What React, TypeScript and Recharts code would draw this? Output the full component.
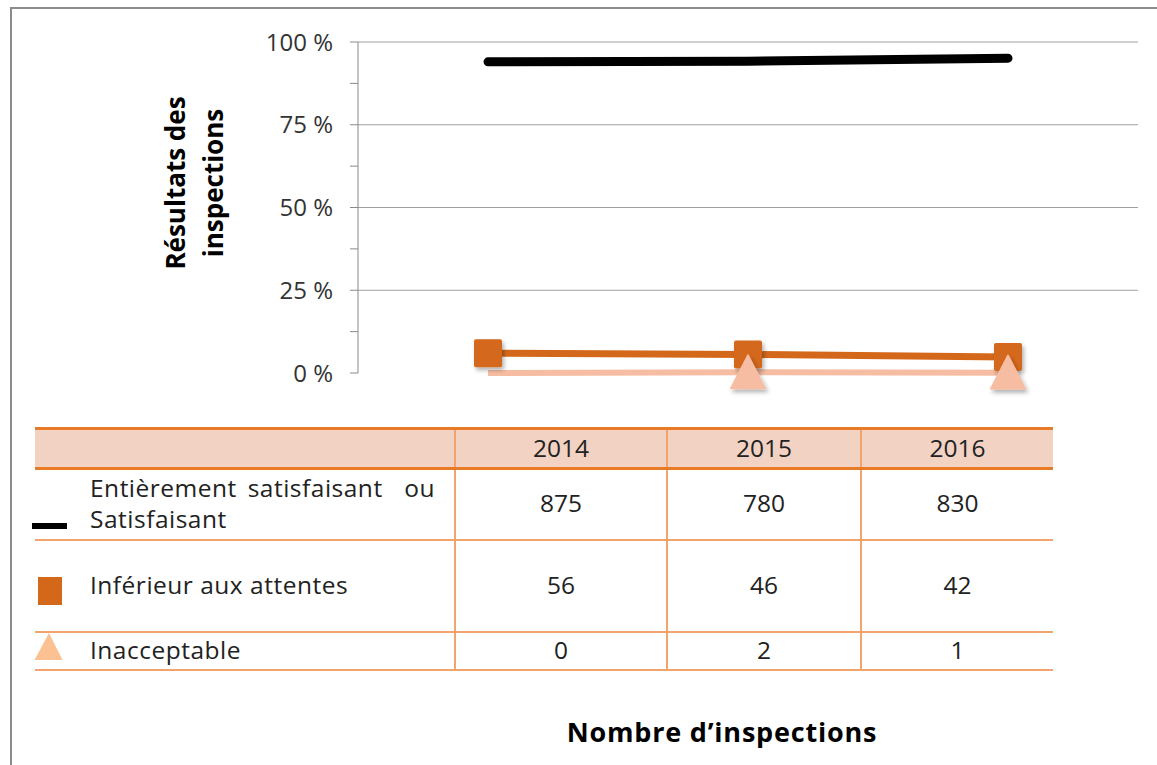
import React from 'react';
import { LineChart, Line, XAxis, YAxis, CartesianGrid } from 'recharts';

// Inspection results by year: share of inspections (line) and counts (table)
const years = ['2014', '2015', '2016'];
const satisfaisantPct = [94.0, 94.2, 95.1];
const inferieurPct = [6.0, 5.6, 4.8];
const inacceptablePct = [0, 0.2, 0.1];
const satisfaisantCount = [875, 780, 830];
const inferieurCount = [56, 46, 42];
const inacceptableCount = [0, 2, 1];
const yTicks = [0, 12.5, 25, 37.5, 50, 62.5, 75, 87.5, 100];
const gridValues = [25, 50, 75, 100];

const BLACK = '#000000';
const ORANGE = '#D4681A';
const PEACH = '#F6BDA3';
const TABLE_ORANGE = '#E97A26';
const TABLE_LINE = '#F2A46C';
const FONT = '"Open Sans", sans-serif';

const data = years.map((year, i) => ({
  year,
  satisfaisant: satisfaisantPct[i],
  inferieur: inferieurPct[i],
  inacceptable: inacceptablePct[i],
}));

const SquareDot = (props: any) => {
  const { cx, cy, index } = props;
  return (
    <rect key={`sq-${index}`} x={cx - 14} y={cy - 14} width={28} height={28} rx={2}
      fill={ORANGE} filter="url(#markerShadow)" />
  );
};

const TriangleDot = (props: any) => {
  const { cx, cy, index } = props;
  if (inacceptableCount[index] === 0) return <g key={`tr-${index}`} />;
  return (
    <path key={`tr-${index}`} d={`M${cx},${cy - 17} L${cx + 17},${cy + 16} L${cx - 17},${cy + 16} Z`}
      fill={PEACH} stroke={PEACH} strokeWidth={2} strokeLinejoin="round" filter="url(#markerShadow)" />
  );
};

const YTitle = () => (
  <text transform="translate(185,183) rotate(-90)" textAnchor="middle"
    style={{ fontFamily: FONT, fontWeight: 700, fontSize: 26, fill: '#000' }}>
    <tspan x={0} dy={0}>Résultats des</tspan>
    <tspan x={0} dy={38}>inspections</tspan>
  </text>
);

const rows = [
  { label: ['Entièrement satisfaisant  ou', 'Satisfaisant'], values: satisfaisantCount, height: 71 },
  { label: ['Inférieur aux attentes'], values: inferieurCount, height: 92 },
  { label: ['Inacceptable'], values: inacceptableCount, height: 38 },
];
const colWidths = [420, 212, 194, 192];

function DataTable() {
  const cell = (i: number, last: boolean): React.CSSProperties => ({
    width: colWidths[i],
    borderRight: i < colWidths.length - 1 ? `2px solid ${TABLE_LINE}` : 'none',
    borderBottom: last ? `3px solid ${TABLE_ORANGE}` : `2px solid ${TABLE_LINE}`,
    textAlign: i === 0 ? 'left' : 'center',
    padding: 0,
    paddingLeft: i === 0 ? 55 : 0,
    boxSizing: 'border-box',
    verticalAlign: 'middle',
  });
  return (
    <table style={{ position: 'absolute', left: 35, top: 427, width: 1018, borderCollapse: 'collapse',
      tableLayout: 'fixed', fontFamily: FONT, fontSize: 24.5, color: '#222', lineHeight: '31px' }}>
      <tbody>
        <tr style={{ height: 40, background: '#F2D3C3', borderTop: `3px solid ${TABLE_ORANGE}` }}>
          <td style={cell(0, true)} />
          {years.map((y, i) => <td key={y} style={{ ...cell(i + 1, true), paddingBottom: 3 }}>{y}</td>)}
        </tr>
        {rows.map((r) => (
          <tr key={r.label[0]} style={{ height: r.height }}>
            <td style={{ ...cell(0, false), paddingBottom: 3 }}>
              {r.label.map((l, j) => (
                <div key={j} style={{ whiteSpace: 'pre', letterSpacing: 0.5,
                  wordSpacing: j === 0 && r.label.length > 1 ? 4 : 0 }}>{l}</div>
              ))}
            </td>
            {r.values.map((v, i) => <td key={i} style={{ ...cell(i + 1, false), paddingBottom: 3 }}>{v}</td>)}
          </tr>
        ))}
      </tbody>
    </table>
  );
}

export default function App() {
  return (
    <div style={{ position: 'relative', width: 1157, height: 765, background: '#fff', overflow: 'hidden' }}>
      <style>{'body{margin:0}'}</style>
      <svg width={0} height={0} style={{ position: 'absolute' }}>
        <defs>
          <filter id="markerShadow" x="-50%" y="-50%" width="200%" height="200%">
            <feDropShadow dx={2} dy={3} stdDeviation={2} floodColor="#000" floodOpacity={0.3} />
          </filter>
        </defs>
      </svg>
      <div style={{ position: 'absolute', left: 10, top: 7, width: 1157, height: 770,
        borderLeft: '2px solid #8c8c8c', borderTop: '2px solid #8c8c8c' }} />
      <div style={{ position: 'absolute', left: 0, top: 0 }}>
        <LineChart width={1157} height={420} data={data}
          margin={{ top: 42, right: 19, bottom: 47, left: 298 }}>
          <CartesianGrid vertical={false} horizontalValues={gridValues} stroke="#a0a0a0" />
          <XAxis dataKey="year" tick={false} tickLine={false} height={0}
            axisLine={{ stroke: '#8a8a8a' }} padding={{ left: 130, right: 130 }} />
          <YAxis domain={[0, 100]} ticks={yTicks} width={60} tickSize={8} tickMargin={17}
            interval={0} axisLine={{ stroke: '#8a8a8a' }} tickLine={{ stroke: '#8a8a8a' }}
            tickFormatter={(v: number) => (v % 25 === 0 ? `${v} %` : '')}
            tick={{ fontFamily: FONT, fontSize: 24, fill: '#333' }} />
          <Line dataKey="satisfaisant" stroke={BLACK} strokeWidth={9} strokeLinecap="round"
            dot={false} isAnimationActive={false} />
          <Line dataKey="inferieur" stroke={ORANGE} strokeWidth={7} dot={SquareDot}
            activeDot={false} isAnimationActive={false} />
          <Line dataKey="inacceptable" stroke={PEACH} strokeWidth={6} dot={TriangleDot}
            activeDot={false} isAnimationActive={false} />
        </LineChart>
      </div>
      <svg width={260} height={420} style={{ position: 'absolute', left: 0, top: 0 }}>
        <YTitle />
      </svg>
      <DataTable />
      <svg width={100} height={240} style={{ position: 'absolute', left: 0, top: 420 }}>
        <rect x={32} y={103} width={35} height={6} fill={BLACK} />
        <rect x={38} y={157} width={24} height={28} fill={ORANGE} />
        <path d="M49,213 L63,241 L34,241 Z" fill="#FBC193" />
      </svg>
      <div style={{ position: 'absolute', left: 0, width: 1157, top: 713, textAlign: 'center',
        paddingLeft: 287, boxSizing: 'border-box', fontFamily: FONT, fontWeight: 700, fontSize: 27,
        color: '#000', letterSpacing: 0.8 }}>
        Nombre d’inspections
      </div>
    </div>
  );
}
